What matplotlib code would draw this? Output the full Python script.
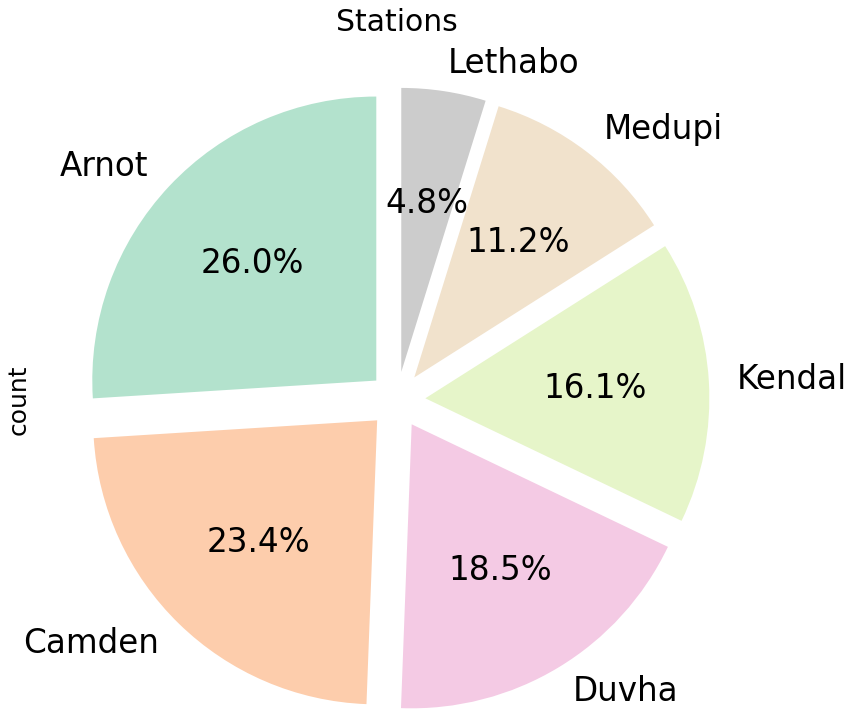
import numpy as np
import matplotlib
matplotlib.use("Agg")
import matplotlib.pyplot as plt

stations = ["Arnot", "Camden", "Duvha", "Kendal", "Medupi", "Lethabo"]
counts = [26.0, 23.4, 18.5, 16.1, 11.2, 4.8]
explode = [0.1] * len(stations)

# same colour picks as pandas colormap='Pastel2' for 6 slices
colors = plt.get_cmap("Pastel2")(np.linspace(0, 1, len(stations)))

W, H = 851, 717
fig = plt.figure(figsize=(W / 100, H / 100), dpi=100)

# pie axes: centre ~(397, 401) px, radius ~285 px -> box side 2.5*R
R = 284
cx, cy = 397, 400
side = 2.5 * R
ax = fig.add_axes([(cx - side / 2) / W, (H - cy - side / 2) / H, side / W, side / H])

ax.pie(counts, labels=stations, explode=explode, colors=colors,
       autopct="%1.1f%%", startangle=90, textprops={"fontsize": 23.5})

ax.set_title("Stations", fontsize=21.5, pad=10)
ax.set_ylabel("count", fontsize=18, labelpad=8)

fig.savefig("out.png", dpi=100)
